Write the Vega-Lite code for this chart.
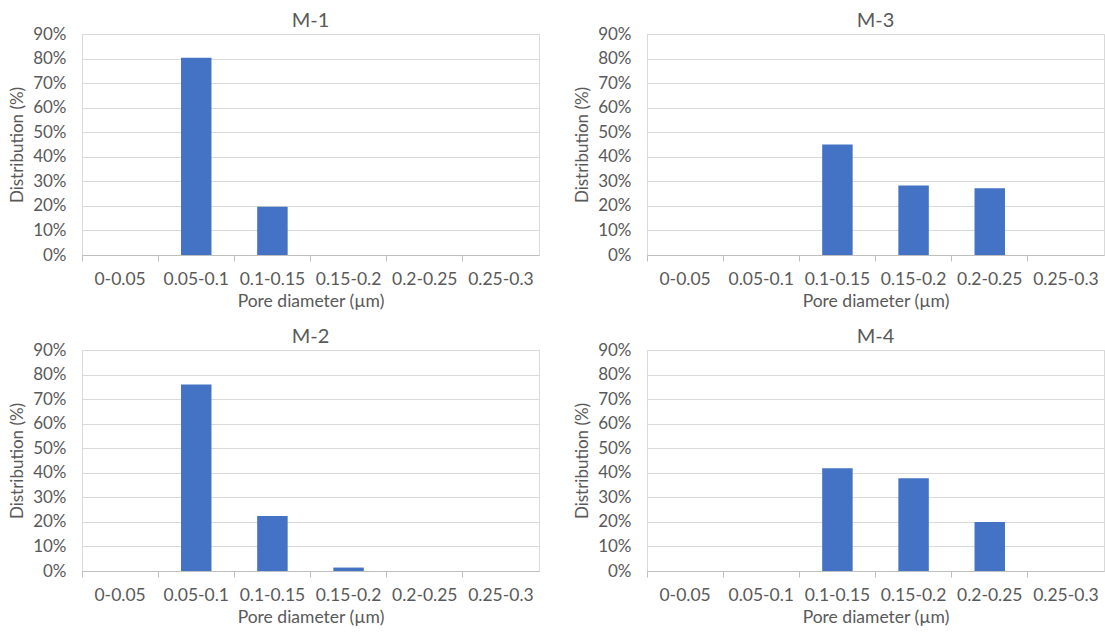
{
  "$schema": "https://vega.github.io/schema/vega-lite/v6.json",
  "padding": {"left": 8, "top": 10, "right": 0, "bottom": 0},
  "background": "white",
  "data": {
    "values": [
      {"sample": "M-1", "range": "0-0.05", "dist": 0},
      {"sample": "M-1", "range": "0.05-0.1", "dist": 0.803},
      {"sample": "M-1", "range": "0.1-0.15", "dist": 0.196},
      {"sample": "M-1", "range": "0.15-0.2", "dist": 0},
      {"sample": "M-1", "range": "0.2-0.25", "dist": 0},
      {"sample": "M-1", "range": "0.25-0.3", "dist": 0},
      {"sample": "M-3", "range": "0-0.05", "dist": 0},
      {"sample": "M-3", "range": "0.05-0.1", "dist": 0},
      {"sample": "M-3", "range": "0.1-0.15", "dist": 0.45},
      {"sample": "M-3", "range": "0.15-0.2", "dist": 0.283},
      {"sample": "M-3", "range": "0.2-0.25", "dist": 0.272},
      {"sample": "M-3", "range": "0.25-0.3", "dist": 0},
      {"sample": "M-2", "range": "0-0.05", "dist": 0},
      {"sample": "M-2", "range": "0.05-0.1", "dist": 0.76},
      {"sample": "M-2", "range": "0.1-0.15", "dist": 0.224},
      {"sample": "M-2", "range": "0.15-0.2", "dist": 0.014},
      {"sample": "M-2", "range": "0.2-0.25", "dist": 0},
      {"sample": "M-2", "range": "0.25-0.3", "dist": 0},
      {"sample": "M-4", "range": "0-0.05", "dist": 0},
      {"sample": "M-4", "range": "0.05-0.1", "dist": 0},
      {"sample": "M-4", "range": "0.1-0.15", "dist": 0.418},
      {"sample": "M-4", "range": "0.15-0.2", "dist": 0.378},
      {"sample": "M-4", "range": "0.2-0.25", "dist": 0.2},
      {"sample": "M-4", "range": "0.25-0.3", "dist": 0}
    ]
  },
  "facet": {
    "field": "sample",
    "type": "nominal",
    "sort": ["M-1", "M-3", "M-2", "M-4"],
    "header": {
      "title": null,
      "labelFont": "Lato",
      "labelFontSize": 20,
      "labelColor": "#595959",
      "labelPadding": -6
    }
  },
  "columns": 2,
  "spacing": {"column": 108, "row": 95},
  "bounds": "flush",
  "resolve": {"axis": {"x": "independent", "y": "independent"}},
  "spec": {
    "width": 457,
    "height": 221,
    "mark": {"type": "bar", "color": "#4472C4", "width": {"band": 0.4}},
    "encoding": {
      "x": {
        "field": "range",
        "type": "ordinal",
        "sort": ["0-0.05", "0.05-0.1", "0.1-0.15", "0.15-0.2", "0.2-0.25", "0.25-0.3"],
        "scale": {"paddingInner": 0, "paddingOuter": 0},
        "title": "Pore diameter (µm)",
        "axis": {
          "labelAngle": 0,
          "bandPosition": 0,
          "labelFont": "Lato",
          "labelFontSize": 17.5,
          "labelColor": "#595959",
          "labelPadding": 9,
          "titleFont": "Lato",
          "titleFontSize": 17.5,
          "titleFontWeight": "normal",
          "titleColor": "#595959",
          "titlePadding": 5,
          "domainColor": "#bfbfbf",
          "tickColor": "#bfbfbf",
          "tickSize": 6,
          "grid": false
        }
      },
      "y": {
        "field": "dist",
        "type": "quantitative",
        "scale": {"domain": [0, 0.9], "nice": false},
        "title": "Distribution (%)",
        "axis": {
          "values": [0, 0.1, 0.2, 0.3, 0.4, 0.5, 0.6, 0.7, 0.8, 0.9],
          "format": ".0%",
          "ticks": false,
          "tickSize": 0,
          "domain": false,
          "labelFont": "Lato",
          "labelFontSize": 17,
          "labelColor": "#595959",
          "labelPadding": 16,
          "titleFont": "Lato",
          "titleFontSize": 17,
          "titleFontWeight": "normal",
          "titleColor": "#595959",
          "titlePadding": 6,
          "gridColor": "#d9d9d9",
          "gridWidth": 1
        }
      }
    }
  },
  "config": {
    "view": {"stroke": "#d9d9d9", "strokeWidth": 1}
  }
}
